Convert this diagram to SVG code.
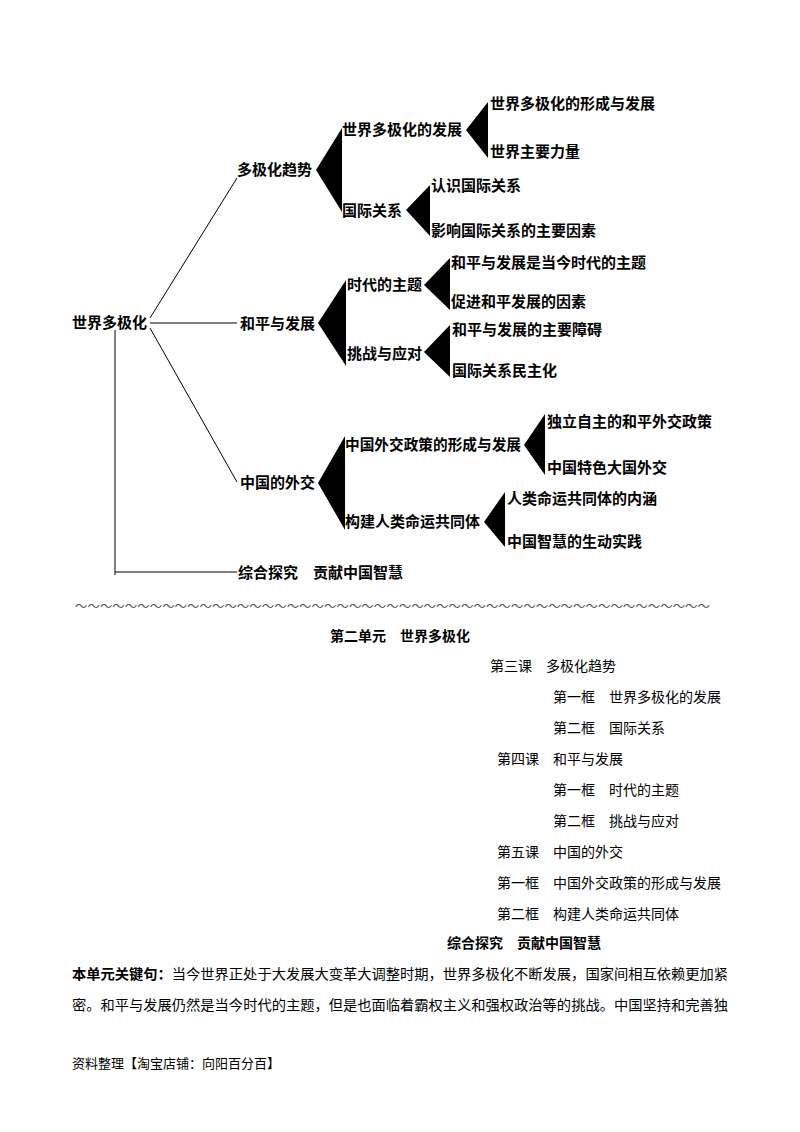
<svg xmlns="http://www.w3.org/2000/svg" width="800" height="1132" viewBox="0 0 800 1132">
<style>
text{font-family:"Noto Sans CJK SC",sans-serif;font-size:14px;fill:#000}
.b{font-weight:bold}
.d text{font-size:15px}
.tri{fill:#000}
.ln{stroke:#000;stroke-width:1;fill:none}
</style>
<rect width="800" height="1132" fill="#fff"/>
<g id="connectors">
<path class="ln" d="M150,318 L237,178 M150,323 L237,323 M150,328 L237,482 M115,330 L115,575 M115,572 L237,572"/>
<polygon class="tri" points="316,170 342,128 342,212"/>
<polygon class="tri" points="466,130 488,102 488,158"/>
<polygon class="tri" points="406,210 430,185 430,236"/>
<polygon class="tri" points="318,323 346,280 346,366"/>
<polygon class="tri" points="424,285 450,258 450,310"/>
<polygon class="tri" points="424,352 450,325 450,377"/>
<polygon class="tri" points="318,483 345,436 345,530"/>
<polygon class="tri" points="524,445 545,414 545,475"/>
<polygon class="tri" points="484,522 505,492 505,547"/>
</g>
<g class="b d">
<g id="n0"><text x="72" y="328">世界多极化</text></g>
<g id="n1"><text x="237" y="175">多极化趋势</text></g>
<g id="n2"><text x="342" y="135">世界多极化的发展</text></g>
<g id="n3"><text x="490" y="109">世界多极化的形成与发展</text></g>
<g id="n4"><text x="490" y="157">世界主要力量</text></g>
<g id="n5"><text x="342" y="216">国际关系</text></g>
<g id="n6"><text x="431" y="191">认识国际关系</text></g>
<g id="n7"><text x="431" y="236">影响国际关系的主要因素</text></g>
<g id="n8"><text x="240" y="329">和平与发展</text></g>
<g id="n9"><text x="347" y="290">时代的主题</text></g>
<g id="n10"><text x="451" y="268">和平与发展是当今时代的主题</text></g>
<g id="n11"><text x="451" y="307">促进和平发展的因素</text></g>
<g id="n12"><text x="347" y="359">挑战与应对</text></g>
<g id="n13"><text x="452" y="335">和平与发展的主要障碍</text></g>
<g id="n14"><text x="452" y="376">国际关系民主化</text></g>
<g id="n15"><text x="240" y="488">中国的外交</text></g>
<g id="n16"><text x="345" y="450" textLength="176" lengthAdjust="spacingAndGlyphs">中国外交政策的形成与发展</text></g>
<g id="n17"><text x="547" y="427">独立自主的和平外交政策</text></g>
<g id="n18"><text x="547" y="473">中国特色大国外交</text></g>
<g id="n19"><text x="345" y="527">构建人类命运共同体</text></g>
<g id="n20"><text x="507" y="504">人类命运共同体的内涵</text></g>
<g id="n21"><text x="507" y="547">中国智慧的生动实践</text></g>
<g id="n22"><text x="238" y="578">综合探究　贡献中国智慧</text></g>
</g>
<text x="75" y="611" textLength="635" lengthAdjust="spacingAndGlyphs" style="font-size:12px;fill:#555">～～～～～～～～～～～～～～～～～～～～～～～～～～～～～～～～～～～～～～～～～～～～～～～～～～～</text>
<text class="b" x="400" y="641" text-anchor="middle">第二单元　世界多极化</text>
<text x="490" y="671">第三课　多极化趋势</text>
<text x="553" y="702">第一框　世界多极化的发展</text>
<text x="553" y="733">第二框　国际关系</text>
<text x="497" y="764">第四课　和平与发展</text>
<text x="553" y="795">第一框　时代的主题</text>
<text x="553" y="826">第二框　挑战与应对</text>
<text x="497" y="857">第五课　中国的外交</text>
<text x="497" y="888">第一框　中国外交政策的形成与发展</text>
<text x="497" y="919">第二框　构建人类命运共同体</text>
<text class="b" x="447" y="948">综合探究　贡献中国智慧</text>
<text x="72" y="979" textLength="656" lengthAdjust="spacingAndGlyphs"><tspan class="b">本单元关键句：</tspan>当今世界正处于大发展大变革大调整时期，世界多极化不断发展，国家间相互依赖更加紧</text>
<text x="72" y="1010" textLength="656" lengthAdjust="spacingAndGlyphs">密。和平与发展仍然是当今时代的主题，但是也面临着霸权主义和强权政治等的挑战。中国坚持和完善独</text>
<text x="72" y="1068" style="font-size:13px">资料整理【淘宝店铺：向阳百分百】</text>
</svg>
